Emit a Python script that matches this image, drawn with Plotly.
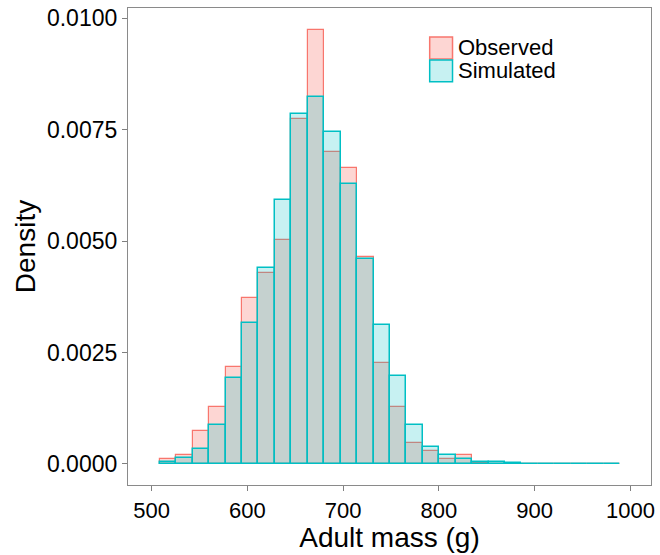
import plotly.graph_objects as go

# ---- data ----
bin_start = 508.5
bin_width = 17.17
observed = [0.00010, 0.00019, 0.00073, 0.00128, 0.00218, 0.00373, 0.00429, 0.00502,
            0.00774, 0.00974, 0.00701, 0.00665, 0.00465, 0.00227, 0.00128, 0.00046,
            0.00028, 0.00010, 0.00019, 0.00002, 0.0, 0.0, 0.0, 0.0, 0.0, 0.0, 0.0, 0.0]
simulated = [0.00005, 0.00014, 0.00034, 0.00087, 0.00192, 0.00315, 0.00439, 0.00593,
             0.00785, 0.00823, 0.00746, 0.00628, 0.00459, 0.00312, 0.00198, 0.00087,
             0.00038, 0.00019, 0.00010, 0.00005, 0.00003, 0.00001, 0.000005, 0.000004,
             0.000003, 0.000002, 0.000001, 0.000001]
x_ticks = [500, 600, 700, 800, 900, 1000]
y_ticks = [0.0, 0.0025, 0.0050, 0.0075, 0.0100]
series_names = ["Observed", "Simulated"]

centers = [bin_start + bin_width * (i + 0.5) for i in range(len(observed))]

FONT = "Liberation Sans, Arial, Helvetica, sans-serif"
OBS_LINE = "#F8766D"
SIM_LINE = "#00BFC4"
OBS_FILL = "rgba(248,118,109,0.30)"
SIM_FILL = "rgba(0,191,196,0.22)"

fig = go.Figure()
fig.add_trace(go.Bar(x=centers, y=observed, width=bin_width, name=series_names[0],
                     marker=dict(color=OBS_FILL, line=dict(color=OBS_LINE, width=1.2)),
                     showlegend=False))
fig.add_trace(go.Bar(x=centers, y=simulated, width=bin_width, name=series_names[1],
                     marker=dict(color=SIM_FILL, line=dict(color=SIM_LINE, width=1.5)),
                     showlegend=False))

W, H = 660, 555
L, R, T, B = 128, 5, 7, 70
pw, ph = W - L - R, H - T - B

def px(xs):
    return (xs - L) / pw

def py(ys):
    return (H - B - ys) / ph

shapes = []
annotations = []
legend_rows = [(series_names[0], OBS_FILL, OBS_LINE, 36, 58),
               (series_names[1], SIM_FILL, SIM_LINE, 59, 81)]
for name, fill, line, y0, y1 in legend_rows:
    shapes.append(dict(type="rect", xref="paper", yref="paper",
                       x0=px(432), x1=px(455), y0=py(y1), y1=py(y0),
                       fillcolor=fill, line=dict(color=line, width=1.5)))
    annotations.append(dict(xref="paper", yref="paper", x=px(459), y=py((y0 + y1) / 2),
                            text=name, showarrow=False, xanchor="left", yanchor="middle",
                            font=dict(family=FONT, size=22, color="black")))

fig.update_layout(
    width=W, height=H,
    margin=dict(l=L, r=R, t=T, b=B),
    paper_bgcolor="white", plot_bgcolor="white",
    barmode="overlay", bargap=0,
    font=dict(family=FONT, color="black"),
    shapes=shapes, annotations=annotations,
    xaxis=dict(range=[475.3, 1021.5], tickvals=x_ticks, ticks="outside", ticklen=5,
               tickcolor="#7f7f7f", tickwidth=1,
               showline=True, linecolor="#8a8a8a", linewidth=1.2, mirror=True,
               showgrid=False, zeroline=False,
               tickfont=dict(family=FONT, size=22, color="black"),
               title=dict(text="Adult mass (g)", font=dict(family=FONT, size=28, color="black"),
                          standoff=5)),
    yaxis=dict(range=[-0.000476, 0.010233], tickvals=y_ticks, tickformat=".4f",
               ticks="outside", ticklen=5, tickcolor="#7f7f7f", tickwidth=1,
               showline=True, linecolor="#8a8a8a", linewidth=1.2, mirror=True,
               showgrid=False, zeroline=False,
               tickfont=dict(family=FONT, size=23, color="black"),
               title=dict(text="Density", font=dict(family=FONT, size=28, color="black"),
                          standoff=3)),
)

fig.write_html("out.html",
               config={"displayModeBar": False},
               post_script="document.body.style.margin='0px';document.body.style.padding='0px';")
